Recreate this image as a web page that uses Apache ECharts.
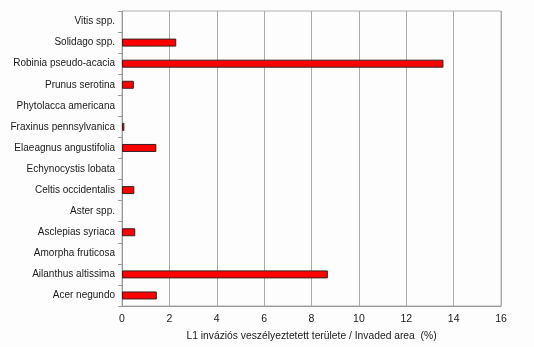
<!DOCTYPE html>
<html>
<head>
<meta charset="utf-8">
<script src="https://cdn.jsdelivr.net/npm/echarts@6/dist/echarts.min.js"></script>
<style>
  html, body { margin: 0; padding: 0; background: #fdfdfd; }
  #chart { width: 534px; height: 347px; }
</style>
</head>
<body>
<div id="chart"></div>
<script>
// Species listed bottom-to-top (category axis starts at the bottom)
const species = [
  'Acer negundo',
  'Ailanthus altissima',
  'Amorpha fruticosa',
  'Asclepias syriaca',
  'Aster spp.',
  'Celtis occidentalis',
  'Echynocystis lobata',
  'Elaeagnus angustifolia',
  'Fraxinus pennsylvanica',
  'Phytolacca americana',
  'Prunus serotina',
  'Robinia pseudo-acacia',
  'Solidago spp.',
  'Vitis spp.'
];

// Invaded area (%) for each species, same order
const invadedArea = [1.47, 8.69, 0, 0.56, 0, 0.52, 0, 1.45, 0.1, 0, 0.5, 13.57, 2.29, 0];

const axisTitle = 'L1 inváziós veszélyeztetett területe / Invaded area  (%)';

// Zero-valued bars get no outline so nothing is drawn for them
const barData = invadedArea.map(v => ({
  value: v,
  itemStyle: v === 0 ? { borderWidth: 0 } : undefined
}));

const chart = echarts.init(document.getElementById('chart'));
chart.setOption({
  backgroundColor: '#fdfdfd',
  animation: false,
  grid: {
    left: 122, right: 33, top: 11, bottom: 41,
    show: true, borderColor: '#b0b0b0', borderWidth: 1, backgroundColor: 'transparent'
  },
  xAxis: {
    type: 'value',
    min: 0, max: 16, interval: 2,
    name: axisTitle,
    nameLocation: 'middle',
    nameGap: 25,
    nameTextStyle: { fontFamily: 'Liberation Sans', fontSize: 10.3, color: '#1a1a1a' },
    axisLine: { show: true, lineStyle: { color: '#999', width: 1 } },
    axisTick: { show: false },
    axisLabel: { fontFamily: 'Liberation Sans', fontSize: 10.5, color: '#1a1a1a', margin: 8 },
    splitLine: { show: true, lineStyle: { color: '#ababab', width: 1 } }
  },
  yAxis: {
    type: 'category',
    data: species,
    axisLine: { show: true, lineStyle: { color: '#999', width: 1 } },
    axisTick: { show: true, length: 4, lineStyle: { color: '#999' } },
    axisLabel: { fontFamily: 'Liberation Sans', fontSize: 10, color: '#1a1a1a', margin: 7 },
    splitLine: { show: false }
  },
  series: [{
    type: 'bar',
    data: barData,
    barWidth: 8,
    itemStyle: { color: '#ff0000', borderColor: '#3a2020', borderWidth: 1 }
  }]
});
</script>
</body>
</html>
